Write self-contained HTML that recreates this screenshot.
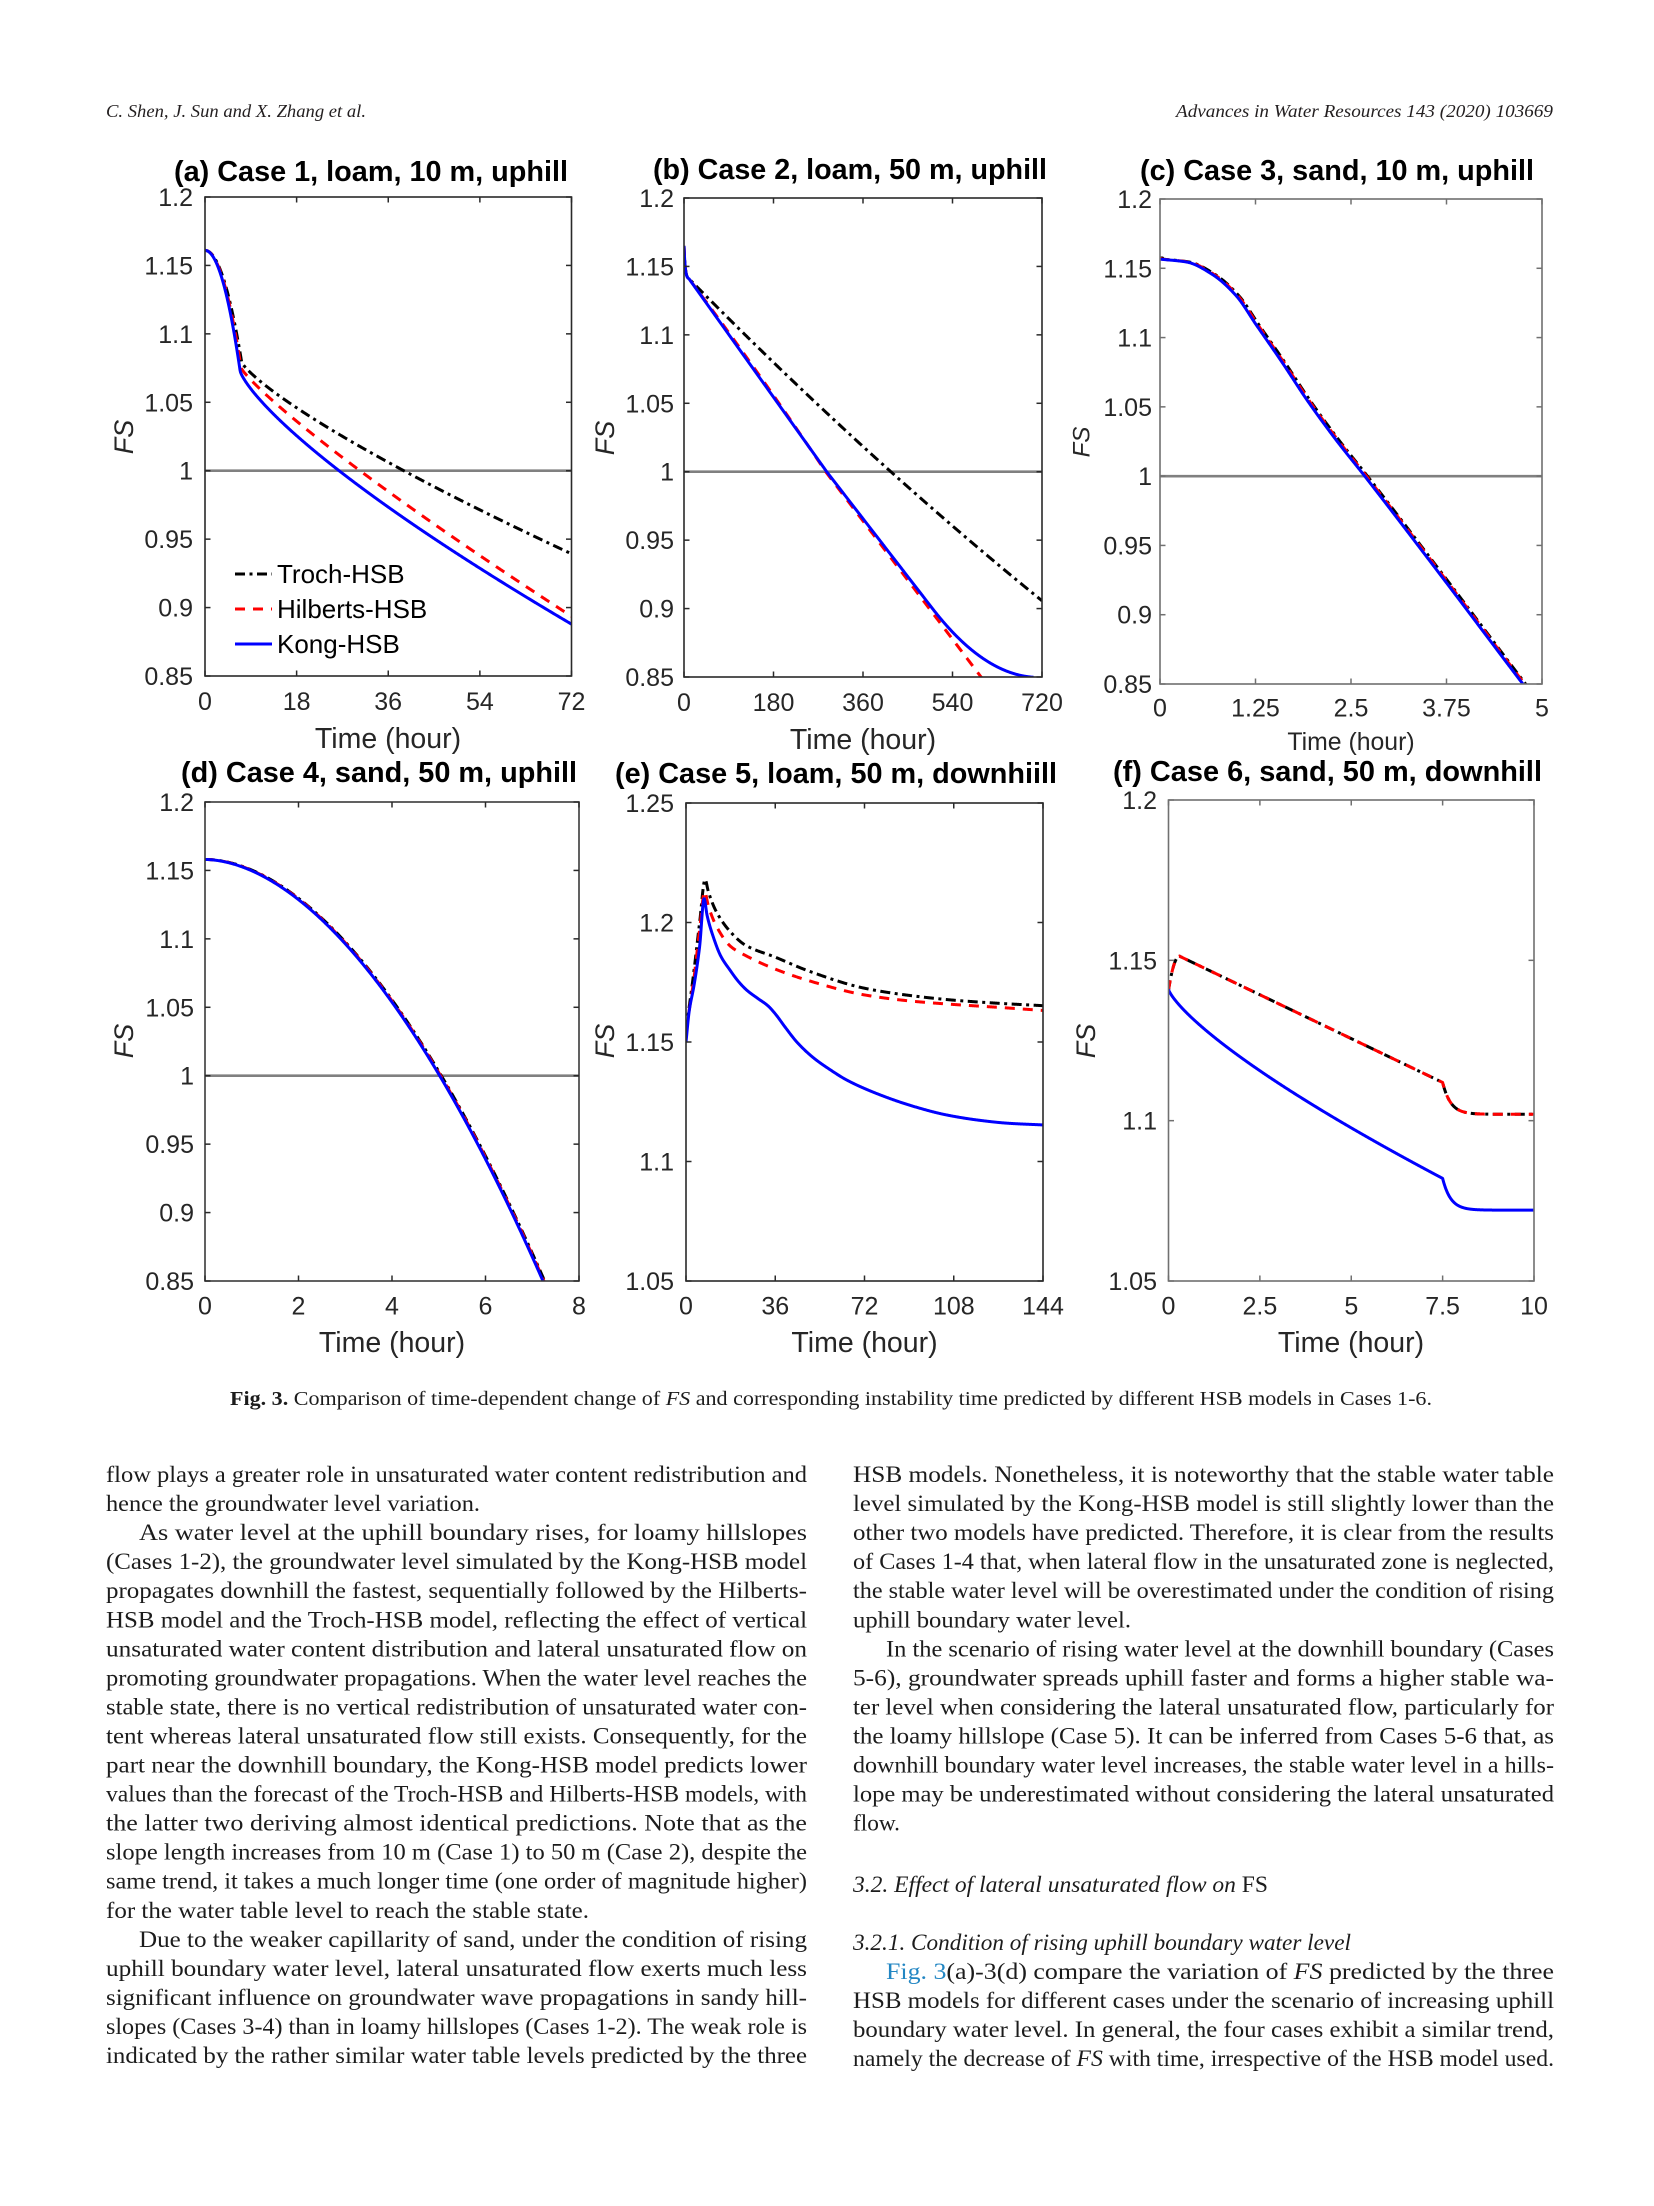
<!DOCTYPE html>
<html>
<head>
<meta charset="utf-8">
<style>
html,body{margin:0;padding:0;background:#fff;}
svg{display:block;}
.hd{font-family:"Liberation Serif",serif;font-style:italic;font-size:18px;fill:#231f20;}
.bt{font-family:"Liberation Serif",serif;font-size:23px;fill:#1c1c1c;}
.cap{font-family:"Liberation Serif",serif;font-size:20px;fill:#1c1c1c;}
.tl{font-family:"Liberation Sans",Arial,sans-serif;font-weight:bold;font-size:28.8px;fill:#000;}
.tk{font-family:"Liberation Sans",Arial,sans-serif;font-size:25px;fill:#262626;}
.xl{font-family:"Liberation Sans",Arial,sans-serif;font-size:28.5px;fill:#262626;text-anchor:middle;}
.fs{font-family:"Liberation Sans",Arial,sans-serif;font-style:italic;font-size:27px;fill:#262626;text-anchor:middle;}
.lg{font-family:"Liberation Sans",Arial,sans-serif;font-size:26px;fill:#000;}
.ye{text-anchor:end;}
.xm{text-anchor:middle;}
</style>
</head>
<body>
<svg id="fig" xmlns="http://www.w3.org/2000/svg" width="1654" height="2206" viewBox="0 0 1654 2206">
<rect x="0" y="0" width="1654" height="2206" fill="#fff"/>
<defs>
<clipPath id="ca"><rect x="205" y="197" width="366.5" height="479"/></clipPath>
<clipPath id="cb"><rect x="684" y="198" width="358" height="479"/></clipPath>
<clipPath id="cc"><rect x="1160" y="199" width="382" height="485"/></clipPath>
<clipPath id="cd"><rect x="205" y="802" width="374" height="479"/></clipPath>
<clipPath id="ce"><rect x="686" y="803" width="357" height="478"/></clipPath>
<clipPath id="cf"><rect x="1168.5" y="800" width="365.5" height="481"/></clipPath>
</defs>

<!-- header -->
<text class="hd" x="106" y="117" textLength="260" lengthAdjust="spacingAndGlyphs">C. Shen, J. Sun and X. Zhang et al.</text>
<text class="hd" x="1176" y="117" textLength="377" lengthAdjust="spacingAndGlyphs">Advances in Water Resources 143 (2020) 103669</text>

<!-- plot content (curves) -->
<g id="plots"></g>

<!-- axes boxes -->
<rect x="205" y="197" width="366.5" height="479" fill="none" stroke="#2a2a2a" stroke-width="1.6"/>
<rect x="684" y="198" width="358" height="479" fill="none" stroke="#2a2a2a" stroke-width="1.6"/>
<rect x="1160" y="199" width="382" height="485" fill="none" stroke="#707070" stroke-width="1.6"/>
<rect x="205" y="802" width="374" height="479" fill="none" stroke="#3a3a3a" stroke-width="1.6"/>
<rect x="686" y="803" width="357" height="478" fill="none" stroke="#2a2a2a" stroke-width="1.6"/>
<rect x="1168.5" y="800" width="365.5" height="481" fill="none" stroke="#707070" stroke-width="1.6"/>
<g id="ticks"></g>

<!-- titles -->
<text class="tl" x="174" y="181" textLength="394" lengthAdjust="spacingAndGlyphs">(a) Case 1, loam, 10 m, uphill</text>
<text class="tl" x="653" y="179" textLength="394" lengthAdjust="spacingAndGlyphs">(b) Case 2, loam, 50 m, uphill</text>
<text class="tl" x="1140" y="180" textLength="394" lengthAdjust="spacingAndGlyphs">(c) Case 3, sand, 10 m, uphill</text>
<text class="tl" x="181" y="782" textLength="396" lengthAdjust="spacingAndGlyphs">(d) Case 4, sand, 50 m, uphill</text>
<text class="tl" x="615" y="783" textLength="442" lengthAdjust="spacingAndGlyphs">(e) Case 5, loam, 50 m, downhiill</text>
<text class="tl" x="1113" y="781" textLength="429" lengthAdjust="spacingAndGlyphs">(f) Case 6, sand, 50 m, downhill</text>

<!-- (a) tick labels -->
<g class="tk">
<text class="ye" x="193" y="206">1.2</text>
<text class="ye" x="193" y="274.4">1.15</text>
<text class="ye" x="193" y="342.9">1.1</text>
<text class="ye" x="193" y="411.3">1.05</text>
<text class="ye" x="193" y="479.7">1</text>
<text class="ye" x="193" y="548.1">0.95</text>
<text class="ye" x="193" y="616.6">0.9</text>
<text class="ye" x="193" y="685">0.85</text>
<text class="xm" x="205" y="710">0</text>
<text class="xm" x="296.6" y="710">18</text>
<text class="xm" x="388.2" y="710">36</text>
<text class="xm" x="479.9" y="710">54</text>
<text class="xm" x="571.5" y="710">72</text>
</g>
<text class="xl" x="388" y="748">Time (hour)</text>
<text class="fs" transform="translate(133,437) rotate(-90)">FS</text>

<!-- (b) tick labels -->
<g class="tk">
<text class="ye" x="674" y="207">1.2</text>
<text class="ye" x="674" y="275.4">1.15</text>
<text class="ye" x="674" y="343.9">1.1</text>
<text class="ye" x="674" y="412.3">1.05</text>
<text class="ye" x="674" y="480.7">1</text>
<text class="ye" x="674" y="549.1">0.95</text>
<text class="ye" x="674" y="617.6">0.9</text>
<text class="ye" x="674" y="686">0.85</text>
<text class="xm" x="684" y="711">0</text>
<text class="xm" x="773.5" y="711">180</text>
<text class="xm" x="863" y="711">360</text>
<text class="xm" x="952.5" y="711">540</text>
<text class="xm" x="1042" y="711">720</text>
</g>
<text class="xl" x="863" y="749">Time (hour)</text>
<text class="fs" transform="translate(614,438) rotate(-90)">FS</text>

<!-- (c) tick labels -->
<g class="tk">
<text class="ye" x="1152" y="208">1.2</text>
<text class="ye" x="1152" y="277.3">1.15</text>
<text class="ye" x="1152" y="346.6">1.1</text>
<text class="ye" x="1152" y="415.9">1.05</text>
<text class="ye" x="1152" y="485.1">1</text>
<text class="ye" x="1152" y="554.4">0.95</text>
<text class="ye" x="1152" y="623.7">0.9</text>
<text class="ye" x="1152" y="693">0.85</text>
<text class="xm" x="1160" y="716.5">0</text>
<text class="xm" x="1255.5" y="716.5">1.25</text>
<text class="xm" x="1351" y="716.5">2.5</text>
<text class="xm" x="1446.5" y="716.5">3.75</text>
<text class="xm" x="1542" y="716.5">5</text>
</g>
<text class="xl" x="1351" y="750" style="font-size:24.8px">Time (hour)</text>
<text class="fs" transform="translate(1089.5,442) rotate(-90)" style="font-size:24px">FS</text>

<!-- (d) tick labels -->
<g class="tk">
<text class="ye" x="194" y="811">1.2</text>
<text class="ye" x="194" y="879.4">1.15</text>
<text class="ye" x="194" y="947.9">1.1</text>
<text class="ye" x="194" y="1016.3">1.05</text>
<text class="ye" x="194" y="1084.7">1</text>
<text class="ye" x="194" y="1153.1">0.95</text>
<text class="ye" x="194" y="1221.6">0.9</text>
<text class="ye" x="194" y="1290">0.85</text>
<text class="xm" x="205" y="1314.5">0</text>
<text class="xm" x="298.5" y="1314.5">2</text>
<text class="xm" x="392" y="1314.5">4</text>
<text class="xm" x="485.5" y="1314.5">6</text>
<text class="xm" x="579" y="1314.5">8</text>
</g>
<text class="xl" x="392" y="1352">Time (hour)</text>
<text class="fs" transform="translate(133,1041) rotate(-90)">FS</text>

<!-- (e) tick labels -->
<g class="tk">
<text class="ye" x="674" y="812">1.25</text>
<text class="ye" x="674" y="931.5">1.2</text>
<text class="ye" x="674" y="1051">1.15</text>
<text class="ye" x="674" y="1170.5">1.1</text>
<text class="ye" x="674" y="1290">1.05</text>
<text class="xm" x="686" y="1314.5">0</text>
<text class="xm" x="775.3" y="1314.5">36</text>
<text class="xm" x="864.5" y="1314.5">72</text>
<text class="xm" x="953.8" y="1314.5">108</text>
<text class="xm" x="1043" y="1314.5">144</text>
</g>
<text class="xl" x="864.5" y="1352">Time (hour)</text>
<text class="fs" transform="translate(614,1041) rotate(-90)">FS</text>

<!-- (f) tick labels -->
<g class="tk">
<text class="ye" x="1157" y="809">1.2</text>
<text class="ye" x="1157" y="969.3">1.15</text>
<text class="ye" x="1157" y="1129.7">1.1</text>
<text class="ye" x="1157" y="1290">1.05</text>
<text class="xm" x="1168.5" y="1314.5">0</text>
<text class="xm" x="1259.9" y="1314.5">2.5</text>
<text class="xm" x="1351.3" y="1314.5">5</text>
<text class="xm" x="1442.6" y="1314.5">7.5</text>
<text class="xm" x="1534" y="1314.5">10</text>
</g>
<text class="xl" x="1351" y="1352">Time (hour)</text>
<text class="fs" transform="translate(1095,1041) rotate(-90)">FS</text>

<!-- legend (a) -->
<line x1="235" y1="574" x2="272" y2="574" stroke="#000" stroke-width="3" stroke-dasharray="10 4.5 3 4.5"/>
<line x1="235" y1="609" x2="272" y2="609" stroke="#ff0000" stroke-width="3" stroke-dasharray="10 8"/>
<line x1="235" y1="644" x2="272" y2="644" stroke="#0000ff" stroke-width="3"/>
<text class="lg" x="277" y="583">Troch-HSB</text>
<text class="lg" x="277" y="618">Hilberts-HSB</text>
<text class="lg" x="277" y="653">Kong-HSB</text>

<!-- caption -->
<text class="cap" x="230" y="1405" textLength="1202" lengthAdjust="spacingAndGlyphs"><tspan font-weight="bold">Fig. 3.</tspan>  Comparison of time-dependent change of <tspan font-style="italic">FS</tspan> and corresponding instability time predicted by different HSB models in Cases 1-6.</text>

<!-- left column -->
<g class="bt">
<text x="106" y="1482" textLength="701" lengthAdjust="spacingAndGlyphs">flow plays a greater role in unsaturated water content redistribution and</text>
<text x="106" y="1511.05" textLength="374" lengthAdjust="spacingAndGlyphs">hence the groundwater level variation.</text>
<text x="139" y="1540.1" textLength="668" lengthAdjust="spacingAndGlyphs">As water level at the uphill boundary rises, for loamy hillslopes</text>
<text x="106" y="1569.15" textLength="701" lengthAdjust="spacingAndGlyphs">(Cases 1-2), the groundwater level simulated by the Kong-HSB model</text>
<text x="106" y="1598.2" textLength="701" lengthAdjust="spacingAndGlyphs">propagates downhill the fastest, sequentially followed by the Hilberts-</text>
<text x="106" y="1627.25" textLength="701" lengthAdjust="spacingAndGlyphs">HSB model and the Troch-HSB model, reflecting the effect of vertical</text>
<text x="106" y="1656.3" textLength="701" lengthAdjust="spacingAndGlyphs">unsaturated water content distribution and lateral unsaturated flow on</text>
<text x="106" y="1685.35" textLength="701" lengthAdjust="spacingAndGlyphs">promoting groundwater propagations. When the water level reaches the</text>
<text x="106" y="1714.4" textLength="701" lengthAdjust="spacingAndGlyphs">stable state, there is no vertical redistribution of unsaturated water con-</text>
<text x="106" y="1743.45" textLength="701" lengthAdjust="spacingAndGlyphs">tent whereas lateral unsaturated flow still exists. Consequently, for the</text>
<text x="106" y="1772.5" textLength="701" lengthAdjust="spacingAndGlyphs">part near the downhill boundary, the Kong-HSB model predicts lower</text>
<text x="106" y="1801.55" textLength="701" lengthAdjust="spacingAndGlyphs">values than the forecast of the Troch-HSB and Hilberts-HSB models, with</text>
<text x="106" y="1830.6" textLength="701" lengthAdjust="spacingAndGlyphs">the latter two deriving almost identical predictions. Note that as the</text>
<text x="106" y="1859.65" textLength="701" lengthAdjust="spacingAndGlyphs">slope length increases from 10 m (Case 1) to 50 m (Case 2), despite the</text>
<text x="106" y="1888.7" textLength="701" lengthAdjust="spacingAndGlyphs">same trend, it takes a much longer time (one order of magnitude higher)</text>
<text x="106" y="1917.75" textLength="483" lengthAdjust="spacingAndGlyphs">for the water table level to reach the stable state.</text>
<text x="139" y="1946.8" textLength="668" lengthAdjust="spacingAndGlyphs">Due to the weaker capillarity of sand, under the condition of rising</text>
<text x="106" y="1975.85" textLength="701" lengthAdjust="spacingAndGlyphs">uphill boundary water level, lateral unsaturated flow exerts much less</text>
<text x="106" y="2004.9" textLength="701" lengthAdjust="spacingAndGlyphs">significant influence on groundwater wave propagations in sandy hill-</text>
<text x="106" y="2033.95" textLength="701" lengthAdjust="spacingAndGlyphs">slopes (Cases 3-4) than in loamy hillslopes (Cases 1-2). The weak role is</text>
<text x="106" y="2063" textLength="701" lengthAdjust="spacingAndGlyphs">indicated by the rather similar water table levels predicted by the three</text>
</g>

<!-- right column -->
<g class="bt">
<text x="853" y="1482" textLength="701" lengthAdjust="spacingAndGlyphs">HSB models. Nonetheless, it is noteworthy that the stable water table</text>
<text x="853" y="1511.05" textLength="701" lengthAdjust="spacingAndGlyphs">level simulated by the Kong-HSB model is still slightly lower than the</text>
<text x="853" y="1540.1" textLength="701" lengthAdjust="spacingAndGlyphs">other two models have predicted. Therefore, it is clear from the results</text>
<text x="853" y="1569.15" textLength="701" lengthAdjust="spacingAndGlyphs">of Cases 1-4 that, when lateral flow in the unsaturated zone is neglected,</text>
<text x="853" y="1598.2" textLength="701" lengthAdjust="spacingAndGlyphs">the stable water level will be overestimated under the condition of rising</text>
<text x="853" y="1627.25" textLength="278" lengthAdjust="spacingAndGlyphs">uphill boundary water level.</text>
<text x="886" y="1656.3" textLength="668" lengthAdjust="spacingAndGlyphs">In the scenario of rising water level at the downhill boundary (Cases</text>
<text x="853" y="1685.35" textLength="701" lengthAdjust="spacingAndGlyphs">5-6), groundwater spreads uphill faster and forms a higher stable wa-</text>
<text x="853" y="1714.4" textLength="701" lengthAdjust="spacingAndGlyphs">ter level when considering the lateral unsaturated flow, particularly for</text>
<text x="853" y="1743.45" textLength="701" lengthAdjust="spacingAndGlyphs">the loamy hillslope (Case 5). It can be inferred from Cases 5-6 that, as</text>
<text x="853" y="1772.5" textLength="701" lengthAdjust="spacingAndGlyphs">downhill boundary water level increases, the stable water level in a hills-</text>
<text x="853" y="1801.55" textLength="701" lengthAdjust="spacingAndGlyphs">lope may be underestimated without considering the lateral unsaturated</text>
<text x="853" y="1830.6" textLength="47" lengthAdjust="spacingAndGlyphs">flow.</text>
<text x="853" y="1892" textLength="415" lengthAdjust="spacingAndGlyphs" font-style="italic">3.2.  Effect of lateral unsaturated flow on <tspan font-style="normal">FS</tspan></text>
<text x="853" y="1950" textLength="498" lengthAdjust="spacingAndGlyphs" font-style="italic">3.2.1.  Condition of rising uphill boundary water level</text>
<text x="886" y="1979" textLength="668" lengthAdjust="spacingAndGlyphs"><tspan fill="#2286c3">Fig. 3</tspan>(a)-3(d) compare the variation of <tspan font-style="italic">FS</tspan> predicted by the three</text>
<text x="853" y="2008" textLength="701" lengthAdjust="spacingAndGlyphs">HSB models for different cases under the scenario of increasing uphill</text>
<text x="853" y="2037" textLength="701" lengthAdjust="spacingAndGlyphs">boundary water level. In general, the four cases exhibit a similar trend,</text>
<text x="853" y="2066" textLength="701" lengthAdjust="spacingAndGlyphs">namely the decrease of <tspan font-style="italic">FS</tspan> with time, irrespective of the HSB model used.</text>
</g>
</svg>

<script>
(function(){
var NS="http://www.w3.org/2000/svg";
var plots=document.getElementById("plots");
var tk=document.getElementById("ticks");
var Y1=[0.85,0.9,0.95,1,1.05,1.1,1.15,1.2];
var AX={
 a:{x0:205,x1:571.5,y0:197,y1:676,xa:0,xb:72,ya:0.85,yb:1.2,xt:[0,18,36,54,72],yt:Y1,clip:"ca",one:true},
 b:{x0:684,x1:1042,y0:198,y1:677,xa:0,xb:720,ya:0.85,yb:1.2,xt:[0,180,360,540,720],yt:Y1,clip:"cb",one:true},
 c:{x0:1160,x1:1542,y0:199,y1:684,xa:0,xb:5,ya:0.85,yb:1.2,xt:[0,1.25,2.5,3.75,5],yt:Y1,clip:"cc",one:true,tc:"#707070"},
 d:{x0:205,x1:579,y0:802,y1:1281,xa:0,xb:8,ya:0.85,yb:1.2,xt:[0,2,4,6,8],yt:Y1,clip:"cd",one:true},
 e:{x0:686,x1:1043,y0:803,y1:1281,xa:0,xb:144,ya:1.05,yb:1.25,xt:[0,36,72,108,144],yt:[1.05,1.1,1.15,1.2,1.25],clip:"ce"},
 f:{x0:1168.5,x1:1534,y0:800,y1:1281,xa:0,xb:10,ya:1.05,yb:1.2,xt:[0,2.5,5,7.5,10],yt:[1.05,1.1,1.15,1.2],clip:"cf",tc:"#707070"}
};
function el(tag,attrs,parent){var e=document.createElementNS(NS,tag);for(var k in attrs)e.setAttribute(k,attrs[k]);parent.appendChild(e);return e;}
function X(ax,t){return ax.x0+(t-ax.xa)/(ax.xb-ax.xa)*(ax.x1-ax.x0);}
function Y(ax,v){return ax.y1-(v-ax.ya)/(ax.yb-ax.ya)*(ax.y1-ax.y0);}
function mono(pts){
 var n=pts.length,xs=[],ys=[],d=[],m=[],i;
 for(i=0;i<n;i++){xs.push(pts[i][0]);ys.push(pts[i][1]);}
 for(i=0;i<n-1;i++)d[i]=(ys[i+1]-ys[i])/(xs[i+1]-xs[i]);
 m[0]=d[0];m[n-1]=d[n-2];
 for(i=1;i<n-1;i++){
  if(d[i-1]*d[i]<=0)m[i]=0;
  else{var h0=xs[i]-xs[i-1],h1=xs[i+1]-xs[i];var w1=2*h1+h0,w2=h1+2*h0;m[i]=(w1+w2)/(w1/d[i-1]+w2/d[i]);}
 }
 return function(x){
  var j=0;while(j<n-2&&x>xs[j+1])j++;
  var h=xs[j+1]-xs[j],t=(x-xs[j])/h,t2=t*t,t3=t2*t;
  return (2*t3-3*t2+1)*ys[j]+(t3-2*t2+t)*h*m[j]+(-2*t3+3*t2)*ys[j+1]+(t3-t2)*h*m[j+1];
 };
}
function path(ax,f,ta,tb,n){
 var d="";for(var i=0;i<=n;i++){var t=ta+(tb-ta)*i/n;var v=f(t);d+=(i?"L":"M")+X(ax,t).toFixed(2)+","+Y(ax,v).toFixed(2);}return d;
}
var STY={
 k:{stroke:"#000","stroke-width":"3","stroke-dasharray":"10 4.5 3 4.5"},
 r:{stroke:"#ff0000","stroke-width":"3","stroke-dasharray":"10 8"},
 b:{stroke:"#0000ff","stroke-width":"3"}
};
function draw(key,sty,f,ta,tb){
 var ax=AX[key];
 var a={d:path(ax,f,ta,tb,900),fill:"none","stroke-linejoin":"round","stroke-linecap":"butt"};
 for(var k in STY[sty])a[k]=STY[sty][k];
 el("path",a,ax.g);
}
var key;
for(key in AX){
 var ax=AX[key];
 ax.g=el("g",{"clip-path":"url(#"+ax.clip+")"},plots);
 if(ax.one){el("line",{x1:ax.x0,x2:ax.x1,y1:Y(ax,1),y2:Y(ax,1),stroke:"#808080","stroke-width":"2.6"},ax.g);}
 var tc=ax.tc||"#2a2a2a",L=5.5,i;
 for(i=0;i<ax.xt.length;i++){var x=X(ax,ax.xt[i]);
  el("line",{x1:x,x2:x,y1:ax.y1,y2:ax.y1-L,stroke:tc,"stroke-width":"1.5"},tk);
  el("line",{x1:x,x2:x,y1:ax.y0,y2:ax.y0+L,stroke:tc,"stroke-width":"1.5"},tk);}
 for(i=0;i<ax.yt.length;i++){var y=Y(ax,ax.yt[i]);
  el("line",{x1:ax.x0,x2:ax.x0+L,y1:y,y2:y,stroke:tc,"stroke-width":"1.5"},tk);
  el("line",{x1:ax.x1,x2:ax.x1-L,y1:y,y2:y,stroke:tc,"stroke-width":"1.5"},tk);}
}
/* (a) */
draw("a","k",function(t){return t<=7.2?1.161-0.0816*Math.pow(t/7.2,2.0):1.0794-0.00498*Math.pow(t-7.2,0.8);},0,72);
draw("a","r",function(t){return t<=7.1?1.161-0.086*Math.pow(t/7.1,2.0):1.075-0.00493*Math.pow(t-7.1,0.864);},0,72);
draw("a","b",function(t){return t<=6.9?1.161-0.088*Math.pow(t/6.9,2.0):1.073-0.00743*Math.pow(t-6.9,0.77);},0,72);
/* (b) */
function binit(t){return 1.165-0.024*(1-Math.exp(-t/2.5))/(1-Math.exp(-4));}
draw("b","k",function(t){if(t<=10)return binit(t);var d=t-10;return 1.141-0.0003685*d+5.23e-8*d*d;},0,720);
draw("b","r",function(t){if(t<=10)return binit(t);if(t<=285){var s=(t-10)/275;return 1.141-0.141*s+0.008*s*(1-s);}return 1.0-0.00048*(t-285);},0,680);
draw("b","b",function(t){if(t<=10)return binit(t);if(t<=287)return 1.141-0.141*(t-10)/277;if(t<=500)return 1.0-0.00047*(t-287);var d=t-500;return 0.8999-0.00047*d+1.1e-6*d*d;},0,703);
/* (c) */
var cpts=[[0,1.1566],[0.35,1.1545],[0.684,1.1456],[1.0,1.130],[1.257,1.1094],[1.6,1.082],[1.93,1.0545],[2.3,1.0265],[2.68,1.0],[3.75,0.923],[4.75,0.85],[5.0,0.832]];
var cb=mono(cpts);
draw("c","k",function(t){return t<0.035?1.1574:cb(t-0.035);},0,5);
draw("c","r",function(t){return t<0.022?1.157:cb(t-0.022);},0,5);
draw("c","b",cb,0,5);
/* (d) */
var fd=function(t){return 1.158-0.158*Math.pow(Math.max(t,0)/5.02,1.83);};
draw("d","k",function(t){return fd(t-0.035);},0,7.6);
draw("d","r",function(t){return fd(t-0.02);},0,7.6);
draw("d","b",fd,0,7.6);
/* (e) */
draw("e","k",mono([[0,1.155],[3,1.178],[5.5,1.2],[7.7,1.218],[9,1.213],[12,1.205],[18,1.196],[24,1.1905],[36,1.1855],[50,1.1795],[72,1.1725],[90,1.1695],[108,1.1675],[126,1.1662],[144,1.1652]]),0,144);
draw("e","r",mono([[0,1.155],[3,1.175],[5.5,1.197],[7.5,1.213],[9,1.207],[12,1.199],[18,1.19],[24,1.1862],[36,1.1805],[50,1.1755],[72,1.1697],[90,1.1672],[108,1.1657],[126,1.1645],[144,1.1632]]),0,144);
draw("e","b",mono([[0,1.15],[1.3,1.163],[3.2,1.1735],[5.5,1.19],[7.3,1.21],[8.5,1.203],[11,1.194],[14,1.186],[17.8,1.18],[21,1.1755],[24.5,1.1717],[29,1.1682],[33,1.1652],[36,1.1618],[40,1.1562],[44.7,1.1500],[51.4,1.1434],[58,1.1385],[65,1.134],[78,1.128],[92,1.123],[105,1.1195],[118.7,1.1172],[130,1.116],[144,1.1153]]),0,144);
/* (f) */
var frb=function(t){
 if(t<=0.3){var u=t/0.3;return 1.1407+0.0106*(1-(1-u)*(1-u));}
 if(t<=7.5)return 1.1513-0.00547*(t-0.3);
 return 1.102+0.0099*Math.exp(-(t-7.5)/0.22);
};
draw("f","k",frb,0,10);
draw("f","r",frb,0,10);
draw("f","b",function(t){
 if(t<=7.5)return 1.141-0.059*Math.pow(t/7.5,0.766);
 return 1.0721+0.0099*Math.exp(-(t-7.5)/0.22);
},0,10);
})();
</script>
</body>
</html>
